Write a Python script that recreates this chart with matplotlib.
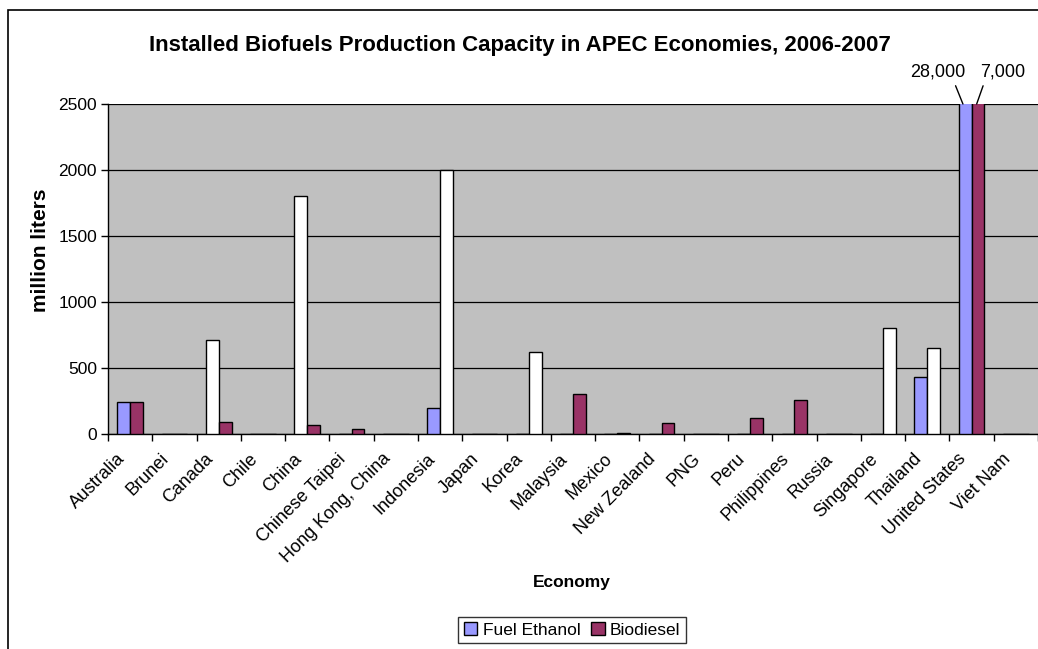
import matplotlib
matplotlib.use("Agg")
import matplotlib.pyplot as plt
from matplotlib.patches import Patch, Rectangle
from matplotlib.transforms import ScaledTranslation
import numpy as np

plt.rcParams['font.family'] = ['Liberation Sans', 'DejaVu Sans']

economies = ["Australia", "Brunei", "Canada", "Chile", "China", "Chinese Taipei",
             "Hong Kong, China", "Indonesia", "Japan", "Korea", "Malaysia", "Mexico",
             "New Zealand", "PNG", "Peru", "Philippines", "Russia", "Singapore",
             "Thailand", "United States", "Viet Nam"]
ethanol = [245, 0, 710, 0, 1800, 0, 0, 200, 0, 0, 0, 0, 0, 0, 0, 0, 0, 0, 430, 28000, 0]
biodiesel = [245, 0, 93, 0, 68, 38, 0, 2000, 0, 624, 303, 10, 81, 0, 120, 255, 0, 800, 650, 7000, 0]
# bars drawn hollow (white) in the original
ethanol_hollow = ["Canada", "China"]
biodiesel_hollow = ["Indonesia", "Korea", "Singapore", "Thailand"]
us_labels = ["28,000", "7,000"]

c_eth = "#9999FF"
c_bio = "#993366"

W, H = 1038, 649
fig = plt.figure(figsize=(W / 100, H / 100), dpi=100)

# outer chart frame (cropped on right/bottom)
fig.patches.append(Rectangle((8 / W, -0.1), 1.2, 1 - 10 / H + 0.1, transform=fig.transFigure,
                             fill=False, edgecolor="black", linewidth=1.2))

ax = fig.add_axes([108 / W, (H - 434) / H, 930 / W, 330 / H])
ax.set_facecolor("#C0C0C0")

x = np.arange(len(economies))
bw = 0.29
eth_fc = ["white" if e in ethanol_hollow else c_eth for e in economies]
bio_fc = ["white" if e in biodiesel_hollow else c_bio for e in economies]
ax.bar(x - bw / 2, ethanol, bw, color=eth_fc, edgecolor="black", linewidth=1.0, zorder=3)
ax.bar(x + bw / 2, biodiesel, bw, color=bio_fc, edgecolor="black", linewidth=1.0, zorder=3)

ax.set_xlim(-0.5, len(economies) - 0.5)
ax.set_ylim(0, 2500)
ax.set_yticks(np.arange(0, 2501, 500))
ax.yaxis.grid(True, color="black", linewidth=0.9, zorder=1)
ax.set_axisbelow(True)

ax.set_xticks(x)
ax.set_xticklabels(economies, rotation=45, ha="right", rotation_mode="anchor", fontsize=13)
ax.tick_params(axis="x", which="major", length=0, pad=6)
shift = ScaledTranslation(-14 / 100, -8 / 100, fig.dpi_scale_trans)
for lab in ax.get_xticklabels():
    lab.set_transform(lab.get_transform() + shift)
ax.set_xticks(np.arange(-0.5, len(economies) + 0.5, 1), minor=True)
ax.tick_params(axis="x", which="minor", length=5, width=1, direction="out")
ax.tick_params(axis="y", length=5, width=1, direction="out", labelsize=12.5, pad=3)

for s in ["top", "right"]:
    ax.spines[s].set_visible(False)
ax.spines["left"].set_linewidth(1.0)
ax.spines["bottom"].set_linewidth(1.0)

fig.text(40 / W, 1 - 250 / H, "million liters", fontsize=15, fontweight="bold", rotation=90,
         ha="center", va="center")
fig.text(572 / W, 1 - 583 / H, "Economy", fontsize=12.5, fontweight="bold", ha="center", va="center")
fig.text(520 / W, 1 - 45 / H, "Installed Biofuels Production Capacity in APEC Economies, 2006-2007",
         fontsize=16, fontweight="bold", ha="center", va="center")

ius = economies.index("United States")
ax.annotate(us_labels[0], xy=(ius - bw / 2 - 0.05, 2500), xytext=(-18, 17), textcoords="offset points",
            ha="center", va="bottom", fontsize=13, annotation_clip=False,
            arrowprops=dict(arrowstyle="-", color="black", lw=1.0, shrinkA=2, shrinkB=0, relpos=(0.78, 0)))
ax.annotate(us_labels[1], xy=(ius + bw / 2 - 0.03, 2500), xytext=(19, 17), textcoords="offset points",
            ha="center", va="bottom", fontsize=13, annotation_clip=False,
            arrowprops=dict(arrowstyle="-", color="black", lw=1.0, shrinkA=2, shrinkB=0, relpos=(0.1, 0)))

handles = [Patch(facecolor=c_eth, edgecolor="black", label="Fuel Ethanol"),
           Patch(facecolor=c_bio, edgecolor="black", label="Biodiesel")]
leg = fig.legend(handles=handles, loc="upper center", bbox_to_anchor=(572 / W, 1 - 617 / H), ncol=2,
                 fontsize=12.5, frameon=True, fancybox=False, edgecolor="black", handlelength=0.8,
                 handleheight=0.8, handletextpad=0.3, columnspacing=0.6, borderpad=0.3, borderaxespad=0)
leg.get_frame().set_linewidth(1.0)

fig.savefig("out.png", dpi=100)
